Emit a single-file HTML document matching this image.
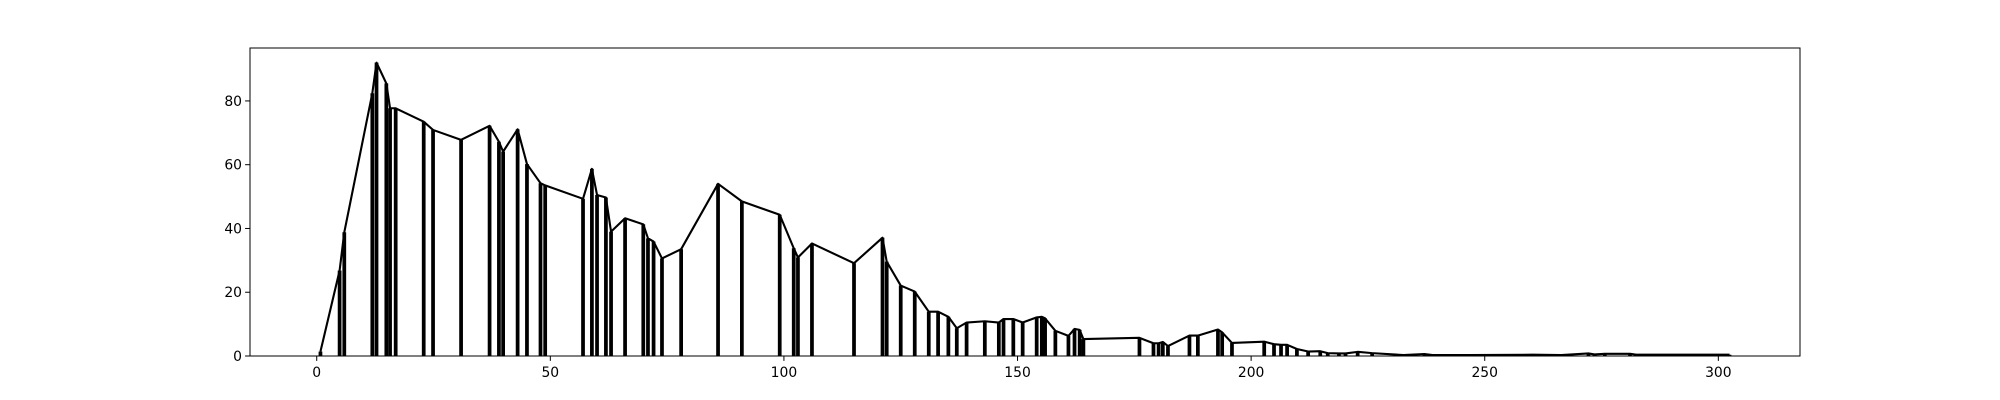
<!DOCTYPE html>
<html><head><meta charset="utf-8">
<style>
html,body{margin:0;padding:0;background:#fff;}
svg{display:block;}
text{font-family:"DejaVu Sans","Liberation Sans",sans-serif;font-size:13.9px;fill:#000;}
</style></head>
<body>
<svg id="chart" width="2000" height="400" viewBox="0 0 2000 400" xmlns="http://www.w3.org/2000/svg">
<rect x="0" y="0" width="2000" height="400" fill="#fff"/>
<g id="bars"></g>
<g id="lines"></g>
<g id="xticks"></g>
<g id="yticks"></g>
<rect x="250" y="48" width="1550" height="308" fill="none" stroke="#000" stroke-width="1"/>
</svg>
<script>
const xValues = [0.8,4.9,5.9,11.9,12.8,14.9,15.7,16.9,22.9,24.9,30.9,37.0,39.0,39.9,43.0,45.0,47.9,48.9,57.0,58.9,60.0,61.9,63.0,66.0,69.9,70.9,72.1,73.9,78.0,85.9,91.0,99.1,102.1,103.0,106.0,115.0,121.1,122.0,125.0,128.0,131.0,133.0,135.2,137.0,139.1,143.0,146.0,147.0,149.1,151.1,154.1,155.2,155.9,158.1,160.9,162.2,163.3,164.1,176.1,179.1,180.2,181.1,182.2,186.8,188.6,192.9,193.8,195.9,202.8,204.9,206.4,207.7,209.8,212.2,214.8,216.4,218.8,220.2,222.8,225.9,232.6,237.1,238.8,246.8,260.2,266.4,272.2,273.5,275.7,281.1,282.4,302.4];
const yValues = [1.4,26.8,38.8,82.4,92.0,85.5,77.7,77.7,73.5,70.9,67.8,72.2,67.2,64.1,71.1,60.2,54.2,53.5,49.3,58.7,50.5,49.7,39.0,43.2,41.3,36.9,35.9,30.6,33.5,54.0,48.5,44.3,33.8,30.9,35.3,29.1,37.1,29.6,22.1,20.2,13.9,13.9,12.3,8.7,10.5,10.9,10.5,11.6,11.6,10.5,12.1,12.3,11.8,7.9,6.3,8.5,8.2,5.3,5.7,4.0,4.0,4.4,3.1,6.4,6.4,8.3,7.4,4.1,4.5,3.7,3.5,3.5,2.2,1.4,1.5,0.9,0.8,0.8,1.3,0.9,0.3,0.6,0.3,0.3,0.4,0.3,0.8,0.5,0.7,0.7,0.4,0.4];
const xTickValues = [0,50,100,150,200,250,300];
const yTickValues = [0,20,40,60,80];

const NS = "http://www.w3.org/2000/svg";
const L=250,R=1800,T=48,B=356;
const xMinD=Math.min(...xValues), xMaxD=Math.max(...xValues);
const pad=(xMaxD-xMinD)*0.05;
const x0=xMinD-pad, x1=xMaxD+pad;
const y0=0, y1=Math.max(...yValues)*1.05;
function sx(v){return L+(v-x0)/(x1-x0)*(R-L);}
function sy(v){return B-(v-y0)/(y1-y0)*(B-T);}

const bars=document.getElementById('bars');
const barW=0.8;
xValues.forEach((xv,i)=>{
  const r=document.createElementNS(NS,'rect');
  const a=sx(xv-barW/2), b=sx(xv+barW/2);
  r.setAttribute('x',a);
  r.setAttribute('width',b-a);
  r.setAttribute('y',sy(yValues[i]));
  r.setAttribute('height',sy(0)-sy(yValues[i]));
  r.setAttribute('fill','#000');
  
  
  bars.appendChild(r);
});

const lines=document.getElementById('lines');
const pl=document.createElementNS(NS,'polyline');
pl.setAttribute('points',xValues.map((xv,i)=>sx(xv)+','+sy(yValues[i])).join(' '));
pl.setAttribute('fill','none');
pl.setAttribute('stroke','#000');
pl.setAttribute('stroke-width','2.1');
pl.setAttribute('stroke-linejoin','round');


lines.appendChild(pl);

const xt=document.getElementById('xticks');
xTickValues.forEach(v=>{
  const px=sx(v);
  const ln=document.createElementNS(NS,'line');
  ln.setAttribute('x1',px);ln.setAttribute('x2',px);
  ln.setAttribute('y1',B);ln.setAttribute('y2',B+4.9);
  ln.setAttribute('stroke','#000');ln.setAttribute('stroke-width','1');
  
  
  xt.appendChild(ln);
  const t=document.createElementNS(NS,'text');
  t.setAttribute('x',px);t.setAttribute('y',B+21);
  t.setAttribute('text-anchor','middle');
  t.textContent=v;
  
  
  xt.appendChild(t);
});
const yt=document.getElementById('yticks');
yTickValues.forEach(v=>{
  const py=sy(v);
  const ln=document.createElementNS(NS,'line');
  ln.setAttribute('x1',L-4.9);ln.setAttribute('x2',L);
  ln.setAttribute('y1',py);ln.setAttribute('y2',py);
  ln.setAttribute('stroke','#000');ln.setAttribute('stroke-width','1');
  
  
  yt.appendChild(ln);
  const t=document.createElementNS(NS,'text');
  t.setAttribute('x',L-8);t.setAttribute('y',py+5);
  t.setAttribute('text-anchor','end');
  t.textContent=v;
  
  
  yt.appendChild(t);
});
</script>
</body></html>
